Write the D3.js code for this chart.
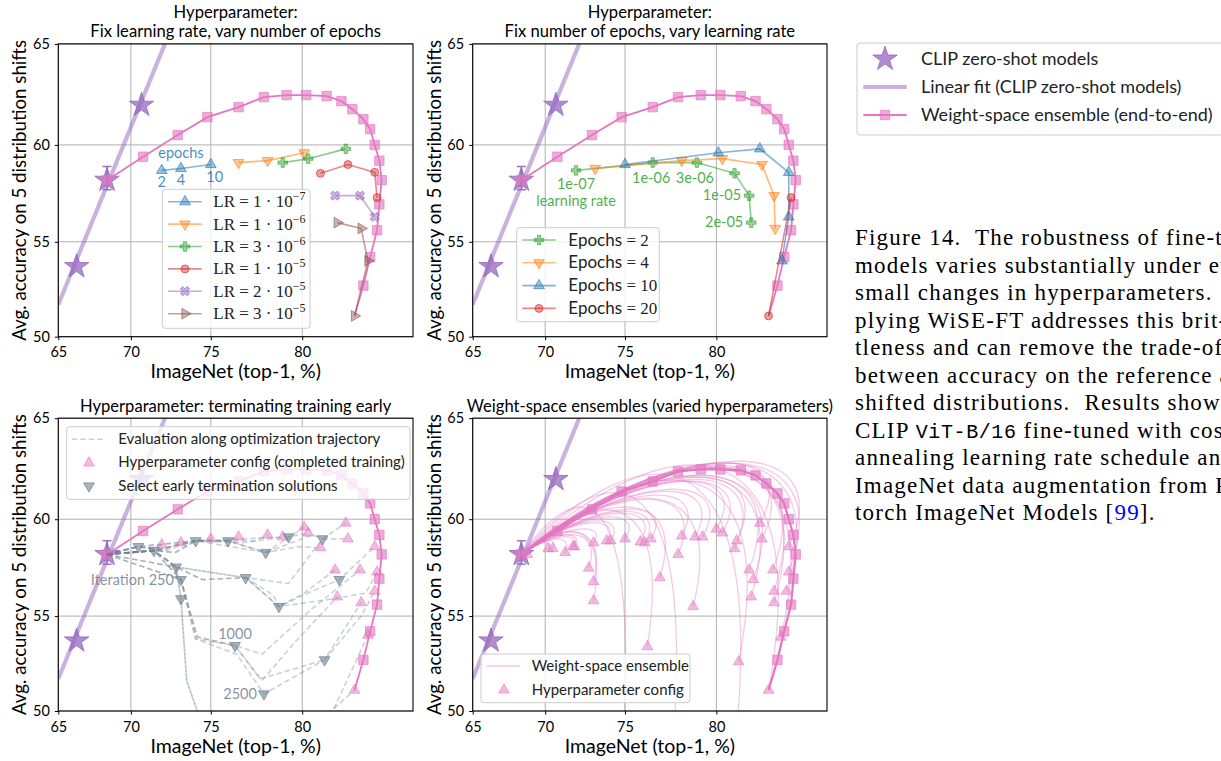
<!DOCTYPE html>
<html>
<head>
<meta charset="utf-8">
<script src="https://cdn.jsdelivr.net/npm/d3@7"></script>
<style>
  body { margin: 0; background: #fff; }
  svg { display: block; }
</style>
</head>
<body>
<svg id="fig" width="1221" height="761"></svg>
<script>
// ---- data ----
const xTicks = [65, 70, 75, 80];
const yTicks = [50, 55, 60, 65];

// CLIP zero-shot models + linear fit
const zeroShotX = [66.3, 68.4, 70.7];
const zeroShotY = [53.7, 58.2, 62.0];
const zeroShotErr = [57.7, 58.9];       // error bar on the middle model
const fitX = [65.0, 72.2];
const fitY = [51.7, 65.0];

// weight-space ensemble (end-to-end), alpha = 0 .. 1
const wiseX = [68.4, 70.8, 73.0, 74.8, 76.6, 78.0, 79.2, 80.2, 81.2, 81.9, 82.4, 82.9, 83.2, 83.4, 83.6, 83.7, 83.6, 83.5, 83.2, 82.9, 82.5];
const wiseY = [58.2, 59.4, 60.5, 61.4, 61.9, 62.4, 62.5, 62.5, 62.45, 62.2, 61.8, 61.3, 60.8, 60.0, 59.2, 58.2, 56.95, 55.6, 54.2, 52.7, 51.1];

// hyperparameter grid: one row per learning rate
const lrNames  = ["1e-07", "1e-06", "3e-06", "1e-05", "2e-05", "3e-05"];
const lrExp    = [["1", "7"], ["1", "6"], ["3", "6"], ["1", "5"], ["2", "5"], ["3", "5"]];
const lrEpochs = [[2, 4, 10], [2, 4, 10], [2, 4, 10], [2, 4, 10, 20], [2, 4, 10], [2, 4, 10, 20]];
const lrAccX = [
  [72.0, 73.2, 75.0],
  [76.6, 78.2, 80.1],
  [79.0, 80.3, 82.1],
  [80.9, 82.2, 83.4, 83.5],
  [81.6, 82.75, 83.4],
  [81.7, 82.8, 83.1, 82.5]
];
const lrAccY = [
  [58.7, 58.8, 59.0],
  [59.1, 59.2, 59.6],
  [59.1, 59.3, 59.8],
  [58.55, 59.0, 58.6, 57.3],
  [57.4, 57.4, 56.3],
  [56.0, 55.7, 54.0, 51.1]
];
const epochList = [2, 4, 10, 20];

// early termination: selected checkpoints and trajectories
const earlyX = [70.5, 71.5, 74.1, 76.0, 78.1, 79.3, 81.0, 72.9, 73.2, 73.2, 77.0, 78.8, 81.8, 76.4, 81.1, 78.0];
const earlyY = [58.6, 58.4, 58.9, 58.9, 58.3, 59.1, 59.0, 57.55, 56.9, 55.9, 57.0, 55.5, 56.9, 53.45, 52.7, 50.9];
const trajectories = [
  [[68.4, 58.2], [69.6, 58.45], [70.5, 58.6], [71.2, 58.5], [72.0, 58.7]],
  [[68.4, 58.2], [70.5, 58.6], [72.0, 58.4], [73.2, 58.8]],
  [[68.4, 58.2], [70.5, 58.6], [72.2, 58.4], [74.1, 58.9], [75.0, 59.0]],
  [[68.4, 58.2], [71.5, 58.4], [72.8, 58.3], [74.1, 58.9], [76.0, 58.9], [76.6, 59.1]],
  [[68.4, 58.2], [71.5, 58.4], [74.1, 58.9], [76.0, 58.9], [77.5, 58.9], [78.2, 59.2]],
  [[68.4, 58.2], [71.5, 58.4], [74.1, 58.9], [76.0, 58.9], [78.1, 58.3], [80.1, 59.6]],
  [[68.4, 58.2], [70.5, 58.6], [74.1, 58.9], [76.8, 58.8], [78.4, 59.0], [79.0, 59.1]],
  [[68.4, 58.2], [70.5, 58.6], [74.1, 58.9], [79.3, 59.1], [80.3, 59.3]],
  [[68.4, 58.2], [71.5, 58.4], [74.1, 58.9], [78.1, 58.3], [80.5, 59.2], [81.0, 59.0], [82.1, 59.8]],
  [[68.4, 58.2], [71.5, 58.4], [72.9, 58.3], [74.1, 58.9], [76.0, 58.9], [78.1, 58.3], [79.8, 58.6], [80.9, 58.55]],
  [[68.4, 58.2], [71.5, 58.4], [72.9, 57.55], [74.5, 56.9], [77.0, 57.0], [79.3, 56.7], [81.0, 59.0], [82.2, 59.0]],
  [[68.4, 58.2], [71.5, 58.4], [72.9, 57.55], [74.5, 56.9], [77.0, 57.0], [78.8, 55.5], [80.5, 56.3], [81.8, 56.9], [83.4, 58.6]],
  [[68.4, 58.2], [71.5, 58.4], [72.9, 57.55], [77.0, 57.0], [78.5, 56.1], [78.8, 55.5], [81.5, 55.9], [83.0, 56.2], [83.5, 57.3]],
  [[68.4, 58.2], [72.9, 57.55], [77.0, 57.0], [78.8, 55.5], [80.1, 56.2], [81.6, 57.4]],
  [[68.4, 58.2], [71.5, 58.4], [73.2, 56.9], [74.2, 53.9], [76.4, 53.45], [77.9, 53.0], [80.4, 55.3], [82.75, 57.4]],
  [[68.4, 58.2], [71.5, 58.4], [73.2, 56.9], [74.1, 53.8], [76.4, 53.45], [77.8, 51.7], [81.1, 52.7], [82.8, 55.0], [83.4, 56.3]],
  [[68.4, 58.2], [73.2, 56.9], [74.2, 53.9], [76.4, 53.45], [77.9, 51.6], [79.6, 53.6], [81.7, 56.0]],
  [[68.4, 58.2], [73.2, 56.9], [74.1, 53.8], [76.5, 53.0], [78.0, 50.9], [81.1, 52.7], [82.8, 55.7]],
  [[68.4, 58.2], [71.5, 58.4], [72.9, 57.55], [73.2, 55.9], [73.55, 51.6], [74.4, 49.5], [78.0, 48.5], [81.5, 50.0], [83.1, 54.0]],
  [[68.4, 58.2], [72.9, 57.55], [73.2, 55.9], [73.55, 51.6], [74.6, 49.0], [79.0, 48.0], [81.0, 49.6], [82.5, 51.1]]
];

// varied hyperparameter configs (end points of the thin ensembles) and the peak of each curve
const cfgX = [68.8, 70.2, 70.5, 71.3, 71.8, 71.9, 73.1, 73.9, 74.15, 75.0, 75.9, 76.15, 76.5, 72.8, 73.1, 73.1, 76.3,
              77.0, 78.0, 78.2, 78.8, 78.9, 79.3, 80.0, 80.3, 80.9, 81.0, 81.1, 81.6, 81.7, 81.8, 82.1, 82.2, 82.7,
              82.75, 82.75, 83.05, 83.3, 83.4, 83.4, 82.5];
const cfgY = [58.2, 58.5, 58.5, 58.3, 58.6, 58.6, 58.8, 58.9, 58.9, 59.0, 58.85, 58.8, 59.0, 57.5, 56.8, 55.8, 53.4,
              57.0, 58.2, 59.15, 55.5, 59.1, 59.1, 59.5, 59.3, 58.5, 58.9, 52.6, 57.4, 56.0, 56.9, 59.8, 59.0, 57.4,
              56.3, 55.7, 53.9, 56.3, 58.6, 57.3, 51.1];
const cfgPeak = [58.3, 58.8, 58.9, 59.0, 59.1, 59.2, 59.5, 59.8, 59.9, 60.1, 60.3, 60.4, 60.5, 59.2, 59.3, 59.3, 60.3,
                 60.6, 61.0, 61.2, 61.0, 61.4, 61.5, 61.9, 61.9, 62.0, 62.1, 61.8, 62.2, 62.1, 62.2, 62.8, 62.6, 62.7,
                 62.6, 62.5, 62.5, 62.8, 62.9, 62.8, 62.5];
// configs whose end point lies below the plotted range
const offX = [74.8, 77.6, 80.8];
const offY = [47.0, 47.0, 47.0];
const offPeak = [60.0, 60.8, 61.8];

// ---- styling ----
const sans = "Lato, 'Open Sans', sans-serif";
const serif = "'Liberation Serif', 'DejaVu Serif', serif";
const c = {
  blue: "#1f77b4", orange: "#ff7f0e", green: "#2ca02c", red: "#d62728",
  purple: "#9467bd", brown: "#8c564b", pink: "#e377c2", slate: "#708090"
};
const lrColors = [c.blue, c.orange, c.green, c.red, c.purple, c.brown];
const lrShapes = [
  { type: d3.symbolTriangle, rot: 0 }, { type: d3.symbolTriangle, rot: 180 },
  { type: d3.symbolCross, rot: 0 }, { type: d3.symbolCircle, rot: 0 },
  { type: d3.symbolCross, rot: 45 }, { type: d3.symbolTriangle, rot: 90 }
];
const epColors = [c.green, c.orange, c.blue, c.red];
const epShapes = [lrShapes[2], lrShapes[1], lrShapes[0], lrShapes[3]];

const logit = p => Math.log(p / (100 - p));
const svg = d3.select("#fig");

function makePanel(id, box, titleLines) {
  const x = d3.scaleLinear().domain([logit(65), logit(85)]).range([box.left, box.right]);
  const y = d3.scaleLinear().domain([logit(50), logit(65)]).range([box.bottom, box.top]);
  const px = v => x(logit(v)), py = v => y(logit(v));

  const g = svg.append("g");
  svg.append("clipPath").attr("id", "clip" + id)
    .append("rect")
    .attr("x", box.left).attr("y", box.top)
    .attr("width", box.right - box.left).attr("height", box.bottom - box.top);

  // grid
  g.append("g").selectAll("line").data(xTicks).join("line")
    .attr("x1", d => px(d)).attr("x2", d => px(d))
    .attr("y1", box.top).attr("y2", box.bottom)
    .attr("stroke", "#b0b0b0").attr("stroke-width", 1);
  g.append("g").selectAll("line").data(yTicks).join("line")
    .attr("y1", d => py(d)).attr("y2", d => py(d))
    .attr("x1", box.left).attr("x2", box.right)
    .attr("stroke", "#b0b0b0").attr("stroke-width", 1);

  // axes
  g.append("g")
    .attr("transform", `translate(0,${box.bottom})`)
    .call(d3.axisBottom(x).tickValues(xTicks.map(logit))
      .tickFormat(d => Math.round(100 / (1 + Math.exp(-d)))).tickSize(3.5).tickPadding(7))
    .attr("font-family", sans).attr("font-size", 14.5)
    .call(a => a.select(".domain").remove());
  g.append("g")
    .attr("transform", `translate(${box.left},0)`)
    .call(d3.axisLeft(y).tickValues(yTicks.map(logit))
      .tickFormat(d => Math.round(100 / (1 + Math.exp(-d)))).tickSize(3.5).tickPadding(5))
    .attr("font-family", sans).attr("font-size", 14.5)
    .call(a => a.select(".domain").remove());

  const data = svg.append("g").attr("clip-path", `url(#clip${id})`);
  const over = svg.append("g");

  g.append("text")
    .attr("x", (box.left + box.right) / 2).attr("y", box.bottom + 41.5)
    .attr("text-anchor", "middle").attr("font-family", sans).attr("font-size", 19.5)
    .text("ImageNet (top-1, %)");
  g.append("text")
    .attr("transform", `translate(${box.left - 32},${(box.top + box.bottom) / 2}) rotate(-90)`)
    .attr("text-anchor", "middle").attr("font-family", sans).attr("font-size", 18.7)
    .text("Avg. accuracy on 5 distribution shifts");
  titleLines.forEach((t, i) => {
    g.append("text")
      .attr("x", (box.left + box.right) / 2)
      .attr("y", box.top - 6.5 - (titleLines.length - 1 - i) * 19.5)
      .attr("text-anchor", "middle").attr("font-family", sans).attr("font-size", 16.6)
      .text(t);
  });

  return { box, px, py, g, data, over };
}

function frame(P) {
  P.over.append("rect")
    .attr("x", P.box.left).attr("y", P.box.top)
    .attr("width", P.box.right - P.box.left).attr("height", P.box.bottom - P.box.top)
    .attr("fill", "none").attr("stroke", "#000").attr("stroke-width", 1.1);
}

function marker(sel, shape, size, color, fillOp, strokeOp) {
  return sel.attr("d", d3.symbol(shape.type, size)())
    .attr("fill", color).attr("fill-opacity", fillOp)
    .attr("stroke", color).attr("stroke-opacity", strokeOp).attr("stroke-width", 1);
}

function drawFit(P) {
  const pts = fitX.map((v, i) => [v, fitY[i]]);
  P.data.append("path").datum(pts)
    .attr("d", d3.line().x(d => P.px(d[0])).y(d => P.py(d[1])))
    .attr("fill", "none").attr("stroke", c.purple).attr("stroke-opacity", 0.5).attr("stroke-width", 4.2);
}

function drawStars(P) {
  const mid = P.px(zeroShotX[1]);
  P.data.append("line")
    .attr("x1", mid).attr("x2", mid)
    .attr("y1", P.py(zeroShotErr[0])).attr("y2", P.py(zeroShotErr[1]))
    .attr("stroke", c.purple).attr("stroke-width", 1.5).attr("stroke-opacity", 0.9);
  zeroShotErr.forEach(v => {
    P.data.append("line")
      .attr("x1", mid - 4.5).attr("x2", mid + 4.5).attr("y1", P.py(v)).attr("y2", P.py(v))
      .attr("stroke", c.purple).attr("stroke-width", 1.5).attr("stroke-opacity", 0.9);
  });
  P.data.append("g").selectAll("path").data(zeroShotX).join("path")
    .attr("transform", (d, i) => `translate(${P.px(d)},${P.py(zeroShotY[i])})`)
    .call(s => marker(s, { type: d3.symbolStar }, 185, c.purple, 0.75, 0.8));
}

function drawWise(P, width) {
  const pts = wiseX.map((v, i) => [v, wiseY[i]]);
  P.data.append("path").datum(pts)
    .attr("d", d3.line().x(d => P.px(d[0])).y(d => P.py(d[1])))
    .attr("fill", "none").attr("stroke", c.pink).attr("stroke-width", width || 1.8);
  P.data.append("g").selectAll("path").data(pts.slice(0, 20)).join("path")
    .attr("transform", d => `translate(${P.px(d[0])},${P.py(d[1])})`)
    .call(s => marker(s, { type: d3.symbolSquare }, 88, c.pink, 0.62, 0.65));
}

function drawSeries(P, pts, color, shape) {
  P.data.append("path").datum(pts)
    .attr("d", d3.line().x(d => P.px(d[0])).y(d => P.py(d[1])))
    .attr("fill", "none").attr("stroke", color).attr("stroke-opacity", 0.55).attr("stroke-width", 1.6);
  P.data.append("g").selectAll("path").data(pts).join("path")
    .attr("transform", d => `translate(${P.px(d[0])},${P.py(d[1])}) rotate(${shape.rot})`)
    .call(s => marker(s, shape, 50, color, 0.45, 0.6));
}

function legendBox(g, x, y, w, h) {
  g.append("rect").attr("x", x).attr("y", y).attr("width", w).attr("height", h).attr("rx", 3)
    .attr("fill", "#fff").attr("fill-opacity", 0.8).attr("stroke", "#cccccc").attr("stroke-width", 1);
}

// ---- panel 1: fix learning rate, vary epochs ----
const P1 = makePanel(1, { left: 58.3, right: 413, top: 43.9, bottom: 336.7 },
  ["Hyperparameter:", "Fix learning rate, vary number of epochs"]);
drawFit(P1);
drawStars(P1);
drawWise(P1);
lrAccX.forEach((row, i) => {
  drawSeries(P1, row.map((v, j) => [v, lrAccY[i][j]]), lrColors[i], lrShapes[i]);
});
// epoch annotations on the first row
P1.data.append("text")
  .attr("x", P1.px(lrAccX[0][1])).attr("y", P1.py(lrAccY[0][1]) - 10)
  .attr("text-anchor", "middle").attr("font-family", sans).attr("font-size", 14.5)
  .attr("fill", c.blue).attr("fill-opacity", 0.85).text("epochs");
lrEpochs[0].forEach((e, j) => {
  P1.data.append("text")
    .attr("x", P1.px(lrAccX[0][j]) + (j === 2 ? 4 : 0)).attr("y", P1.py(lrAccY[0][j]) + 17)
    .attr("text-anchor", "middle").attr("font-family", sans).attr("font-size", 14.5)
    .attr("fill", c.blue).attr("fill-opacity", 0.85).text(e);
});
frame(P1);
legendBox(P1.over, 162.3, 189.3, 147.7, 139);
lrNames.forEach((n, i) => {
  const ly = 201.7 + i * 22.4;
  P1.over.append("line").attr("x1", 168).attr("x2", 201.7).attr("y1", ly).attr("y2", ly)
    .attr("stroke", lrColors[i]).attr("stroke-opacity", 0.55).attr("stroke-width", 1.6);
  P1.over.append("path").attr("transform", `translate(185,${ly}) rotate(${lrShapes[i].rot})`)
    .call(s => marker(s, lrShapes[i], 50, lrColors[i], 0.45, 0.6));
  const t = P1.over.append("text").attr("x", 213.3).attr("y", ly + 5.5)
    .attr("font-family", serif).attr("font-size", 17).attr("fill", "#222");
  t.append("tspan").text(`LR = ${lrExp[i][0]} · 10`);
  t.append("tspan").attr("dy", -7).attr("font-size", 12).text(`−${lrExp[i][1]}`);
});

// ---- panel 2: fix epochs, vary learning rate ----
const P2 = makePanel(2, { left: 472.7, right: 827, top: 43.9, bottom: 336.7 },
  ["Hyperparameter:", "Fix number of epochs, vary learning rate"]);
drawFit(P2);
drawStars(P2);
drawWise(P2);
epochList.forEach((e, k) => {
  const pts = [];
  lrEpochs.forEach((row, i) => row.forEach((ep, j) => { if (ep === e) pts.push([lrAccX[i][j], lrAccY[i][j]]); }));
  drawSeries(P2, pts, epColors[k], epShapes[k]);
});
// learning-rate annotations along the 2-epoch series
const lrLabel = (i, dx, dy, anchor, txt) => {
  P2.data.append("text")
    .attr("x", P2.px(lrAccX[i][0]) + dx).attr("y", P2.py(lrAccY[i][0]) + dy)
    .attr("text-anchor", anchor).attr("font-family", sans).attr("font-size", 14.5)
    .attr("fill", c.green).attr("fill-opacity", 0.85).text(txt);
};
lrLabel(0, 0, 19, "middle", lrNames[0]);
lrLabel(0, 0, 35.5, "middle", "learning rate");
lrLabel(1, -1.5, 20, "middle", lrNames[1]);
lrLabel(2, -2, 20, "middle", lrNames[2]);
lrLabel(4, -8, 4.5, "end", lrNames[3]);
lrLabel(5, -8, 4.5, "end", lrNames[4]);
frame(P2);
legendBox(P2.over, 516.7, 227.7, 142.6, 94);
epochList.forEach((e, k) => {
  const ly = 240 + k * 22.8;
  P2.over.append("line").attr("x1", 522.3).attr("x2", 555.7).attr("y1", ly).attr("y2", ly)
    .attr("stroke", epColors[k]).attr("stroke-opacity", 0.55).attr("stroke-width", 1.6);
  P2.over.append("path").attr("transform", `translate(539,${ly}) rotate(${epShapes[k].rot})`)
    .call(s => marker(s, epShapes[k], 50, epColors[k], 0.45, 0.6));
  const t = P2.over.append("text").attr("x", 568.3).attr("y", ly + 5.5)
    .attr("font-size", 17).attr("fill", "#222").style("white-space", "pre");
  t.append("tspan").attr("font-family", sans).text("Epochs ");
  t.append("tspan").attr("font-family", serif).text(`= ${e}`);
});

// ---- panel 3: terminating training early ----
const P3 = makePanel(3, { left: 58.3, right: 413, top: 418.2, bottom: 711 },
  ["Hyperparameter: terminating training early"]);
drawFit(P3);
drawStars(P3);
drawWise(P3);
P3.data.append("g").selectAll("path").data(trajectories).join("path")
  .attr("d", d3.line().x(d => P3.px(d[0])).y(d => P3.py(d[1])))
  .attr("fill", "none").attr("stroke", c.slate).attr("stroke-opacity", 0.36)
  .attr("stroke-width", 1.6).attr("stroke-dasharray", "5.5,3");
const gridPts = [];
lrAccX.forEach((row, i) => row.forEach((v, j) => gridPts.push([v, lrAccY[i][j]])));
P3.data.append("g").selectAll("path").data(gridPts).join("path")
  .attr("transform", d => `translate(${P3.px(d[0])},${P3.py(d[1])})`)
  .call(s => marker(s, { type: d3.symbolTriangle }, 50, c.pink, 0.5, 0.55));
P3.data.append("g").selectAll("path").data(earlyX).join("path")
  .attr("transform", (d, i) => `translate(${P3.px(d)},${P3.py(earlyY[i])}) rotate(180)`)
  .call(s => marker(s, { type: d3.symbolTriangle }, 50, c.slate, 0.6, 0.7));
const iterLabel = (i, dx, dy, anchor, txt) => {
  P3.data.append("text")
    .attr("x", P3.px(earlyX[i]) + dx).attr("y", P3.py(earlyY[i]) + dy)
    .attr("text-anchor", anchor).attr("font-family", sans).attr("font-size", 14.5)
    .attr("fill", c.slate).attr("fill-opacity", 0.85).text(txt);
};
iterLabel(8, -7, 5, "end", "Iteration 250");
iterLabel(13, 0, -7, "middle", "1000");
iterLabel(15, -7, 5.5, "end", "2500");
frame(P3);
legendBox(P3.over, 66.7, 426.7, 343.3, 72.6);
P3.over.append("line").attr("x1", 71.7).attr("x2", 106).attr("y1", 439.3).attr("y2", 439.3)
  .attr("stroke", c.slate).attr("stroke-opacity", 0.36).attr("stroke-width", 1.6).attr("stroke-dasharray", "5.5,3");
P3.over.append("path").attr("transform", "translate(89,463)")
  .call(s => marker(s, { type: d3.symbolTriangle }, 50, c.pink, 0.5, 0.55));
P3.over.append("path").attr("transform", "translate(89,486) rotate(180)")
  .call(s => marker(s, { type: d3.symbolTriangle }, 50, c.slate, 0.6, 0.7));
["Evaluation along optimization trajectory", "Hyperparameter config (completed training)", "Select early termination solutions"]
  .forEach((t, i) => {
    P3.over.append("text").attr("x", 118.3).attr("y", [439.3, 462.3, 486][i] + 5)
      .attr("font-family", sans).attr("font-size", 15).attr("fill", "#222").text(t);
  });

// ---- panel 4: weight-space ensembles over varied hyperparameters ----
const P4 = makePanel(4, { left: 472.7, right: 827, top: 418.2, bottom: 711 },
  ["Weight-space ensembles (varied hyperparameters)"]);
drawFit(P4);
drawStars(P4);
const z4 = [P4.px(wiseX[0]), P4.py(wiseY[0])];
const ensemblePath = (ex, ey, peak) => {
  const x1 = P4.px(ex), y1 = P4.py(ey), pk = P4.py(peak);
  const w = x1 - z4[0];
  const top = (pk - 0.125 * (z4[1] + y1)) / 0.75;
  const p = d3.path();
  p.moveTo(z4[0], z4[1]);
  p.bezierCurveTo(z4[0] + 0.6 * w, top, x1 + 0.2 * w, top, x1, y1);
  return p.toString();
};
const ens = P4.data.append("g");
cfgX.forEach((v, i) => {
  ens.append("path").attr("d", ensemblePath(v, cfgY[i], cfgPeak[i]))
    .attr("fill", "none").attr("stroke", c.pink).attr("stroke-opacity", 0.4).attr("stroke-width", 1.3);
});
offX.forEach((v, i) => {
  ens.append("path").attr("d", ensemblePath(v, offY[i], offPeak[i]))
    .attr("fill", "none").attr("stroke", c.pink).attr("stroke-opacity", 0.4).attr("stroke-width", 1.3);
});
P4.data.append("g").selectAll("path").data(cfgX).join("path")
  .attr("transform", (d, i) => `translate(${P4.px(d)},${P4.py(cfgY[i])})`)
  .call(s => marker(s, { type: d3.symbolTriangle }, 50, c.pink, 0.5, 0.55));
drawWise(P4, 2.2);
frame(P4);
legendBox(P4.over, 481, 654, 209, 48.7);
P4.over.append("line").attr("x1", 486.7).attr("x2", 520).attr("y1", 666).attr("y2", 666)
  .attr("stroke", c.pink).attr("stroke-opacity", 0.45).attr("stroke-width", 1.4);
P4.over.append("path").attr("transform", "translate(504,690)")
  .call(s => marker(s, { type: d3.symbolTriangle }, 50, c.pink, 0.5, 0.55));
["Weight-space ensemble", "Hyperparameter config"].forEach((t, i) => {
  P4.over.append("text").attr("x", 531.7).attr("y", [666, 690][i] + 5)
    .attr("font-family", sans).attr("font-size", 15).attr("fill", "#222").text(t);
});

// ---- shared legend (top right) ----
const L = svg.append("g");
legendBox(L, 857, 43, 380, 92);
L.append("path").attr("transform", "translate(885,59)")
  .call(s => marker(s, { type: d3.symbolStar }, 185, c.purple, 0.75, 0.8));
L.append("line").attr("x1", 863.3).attr("x2", 906.7).attr("y1", 87).attr("y2", 87)
  .attr("stroke", c.purple).attr("stroke-opacity", 0.5).attr("stroke-width", 4.2);
L.append("line").attr("x1", 863.3).attr("x2", 906.7).attr("y1", 115).attr("y2", 115)
  .attr("stroke", c.pink).attr("stroke-width", 1.8);
L.append("path").attr("transform", "translate(885,115)")
  .call(s => marker(s, { type: d3.symbolSquare }, 88, c.pink, 0.62, 0.65));
["CLIP zero-shot models", "Linear fit (CLIP zero-shot models)", "Weight-space ensemble (end-to-end)"]
  .forEach((t, i) => {
    L.append("text").attr("x", 921).attr("y", 59 + i * 28 + 6)
      .attr("font-family", sans).attr("font-size", 18).attr("fill", "#222").text(t);
  });

// ---- caption (runs past the right edge, as in the source page) ----
const captionLines = [
  "Figure 14.  The robustness of fine-tuned",
  "models varies substantially under even",
  "small changes in hyperparameters.  Ap-",
  "plying WiSE-FT addresses this brit-",
  "tleness and can remove the trade-off",
  "between accuracy on the reference and",
  "shifted distributions.  Results shown for",
  null,
  "annealing learning rate schedule and",
  "ImageNet data augmentation from Py-",
  null
];
const cap = svg.append("g").attr("font-family", serif).attr("font-size", 23)
  .attr("letter-spacing", 1.2).attr("fill", "#000");
captionLines.forEach((t, i) => {
  const tx = cap.append("text").attr("x", 855).attr("y", 245 + i * 27.5).style("white-space", "pre");
  if (i === 7) {
    tx.append("tspan").text("CLIP ");
    tx.append("tspan").attr("font-family", "'Liberation Mono', 'DejaVu Sans Mono', monospace")
      .attr("font-size", 20).attr("letter-spacing", 0.6).text("ViT-B/16");
    tx.append("tspan").text(" fine-tuned with cosine");
  } else if (i === 10) {
    tx.append("tspan").text("torch ImageNet Models [");
    tx.append("tspan").attr("fill", "#0000ee").text("99");
    tx.append("tspan").text("].");
  } else {
    tx.text(t);
  }
});
</script>
</body>
</html>
